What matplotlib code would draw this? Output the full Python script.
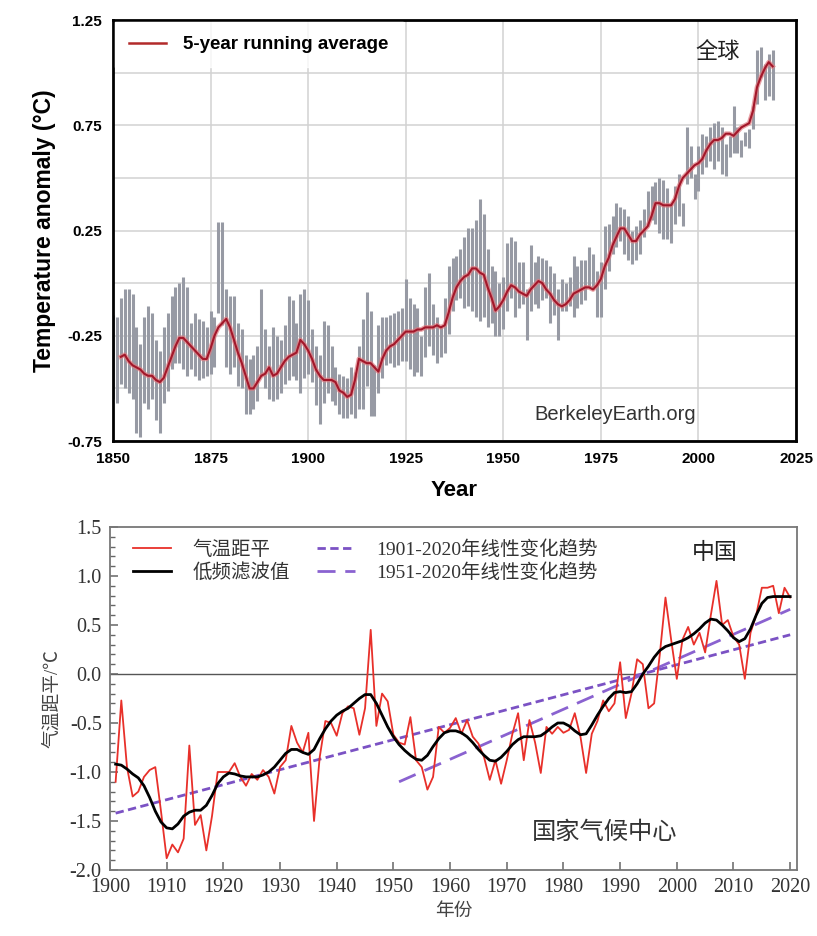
import numpy as np
import matplotlib
matplotlib.use("Agg")
import matplotlib.pyplot as plt
from matplotlib.lines import Line2D
from matplotlib.ticker import MultipleLocator, FixedLocator

plt.rcParams["axes.unicode_minus"] = False

# ---- global (Berkeley Earth) ----
# annual uncertainty bars, 1850-2019: upper and lower ends
glob_hi = [
    -0.15, -0.16, -0.07, -0.03, -0.03, -0.05, -0.21, -0.29, -0.16, -0.11,
    -0.14, -0.27, -0.32, -0.21, -0.14, -0.06, -0.02, 0.00, 0.03, -0.02,
    -0.19, -0.14, -0.17, -0.18, -0.21, -0.13, -0.16, 0.29, 0.29, -0.03,
    -0.06, -0.06, -0.19, -0.22, -0.34, -0.36, -0.34, -0.30, -0.03, -0.22,
    -0.30, -0.21, -0.25, -0.27, -0.20, -0.06, -0.08, -0.19, -0.05, -0.03,
    -0.08, -0.22, -0.30, -0.34, -0.18, -0.20, -0.30, -0.40, -0.43, -0.44,
    -0.45, -0.40, -0.42, -0.30, -0.17, -0.04, -0.13, -0.39, -0.20, -0.16,
    -0.16, -0.15, -0.14, -0.13, -0.12, 0.02, -0.07, -0.10, -0.12, -0.25,
    -0.02, 0.05, -0.10, -0.16, -0.21, -0.07, 0.08, 0.12, 0.13, 0.16,
    0.22, 0.26, 0.26, 0.30, 0.40, 0.33, 0.16, 0.08, 0.06, 0.00,
    0.03, 0.19, 0.22, 0.20, 0.10, 0.10, -0.03, 0.18, 0.10, 0.13,
    0.12, 0.11, 0.08, 0.05, -0.03, 0.02, 0.00, 0.03, 0.13, 0.08,
    0.11, 0.11, 0.17, 0.14, 0.06, 0.10, 0.27, 0.28, 0.32, 0.38,
    0.36, 0.35, 0.32, 0.25, 0.27, 0.30, 0.35, 0.44, 0.46, 0.48,
    0.50, 0.49, 0.45, 0.38, 0.46, 0.52, 0.38, 0.74, 0.65, 0.52,
    0.65, 0.71, 0.70, 0.74, 0.76, 0.77, 0.74, 0.66, 0.70, 0.84,
    0.74, 0.68, 0.72, 0.73, 0.84, 1.11, 1.12, 1.04, 1.09, 1.11,
]
glob_lo = [
    -0.55, -0.57, -0.48, -0.50, -0.52, -0.55, -0.71, -0.73, -0.57, -0.60,
    -0.55, -0.65, -0.71, -0.57, -0.51, -0.41, -0.38, -0.38, -0.41, -0.44,
    -0.41, -0.44, -0.46, -0.45, -0.44, -0.43, -0.40, -0.14, -0.20, -0.40,
    -0.43, -0.40, -0.49, -0.50, -0.62, -0.62, -0.60, -0.56, -0.44, -0.50,
    -0.55, -0.56, -0.55, -0.52, -0.48, -0.46, -0.44, -0.46, -0.52, -0.45,
    -0.43, -0.47, -0.58, -0.67, -0.57, -0.52, -0.56, -0.58, -0.62, -0.64,
    -0.64, -0.62, -0.64, -0.60, -0.60, -0.49, -0.63, -0.63, -0.52, -0.45,
    -0.39, -0.38, -0.40, -0.39, -0.37, -0.37, -0.41, -0.44, -0.42, -0.44,
    -0.35, -0.30, -0.34, -0.38, -0.35, -0.33, -0.24, -0.13, -0.08, -0.07,
    -0.12, -0.11, -0.13, -0.16, -0.18, -0.16, -0.21, -0.19, -0.25, -0.25,
    -0.22, -0.13, -0.07, -0.16, -0.12, -0.10, -0.27, -0.13, -0.10, -0.12,
    -0.08, -0.07, -0.19, -0.15, -0.27, -0.13, -0.13, -0.11, -0.16, -0.12,
    -0.10, -0.08, -0.02, -0.03, -0.16, -0.16, -0.03, 0.06, 0.14, 0.17,
    0.20, 0.14, 0.11, 0.09, 0.11, 0.14, 0.22, 0.27, 0.30, 0.28,
    0.24, 0.21, 0.21, 0.19, 0.28, 0.32, 0.27, 0.47, 0.50, 0.40,
    0.44, 0.52, 0.55, 0.58, 0.54, 0.58, 0.52, 0.51, 0.60, 0.62,
    0.62, 0.60, 0.65, 0.64, 0.73, 0.85, 0.98, 0.87, 0.89, 0.87,
]
glob_years = np.arange(1850, 1850 + len(glob_hi))

# 5-year running average, 1852-2019
run5 = [
    -0.35, -0.34, -0.37, -0.39, -0.40, -0.41, -0.43, -0.44,
    -0.44, -0.46, -0.47, -0.45, -0.40, -0.35, -0.30, -0.26, -0.26, -0.28,
    -0.30, -0.32, -0.34, -0.36, -0.36, -0.31, -0.25, -0.21, -0.19, -0.17,
    -0.21, -0.27, -0.33, -0.38, -0.44, -0.50, -0.50, -0.47, -0.44, -0.43,
    -0.40, -0.44, -0.43, -0.40, -0.37, -0.35, -0.34, -0.33, -0.27, -0.29,
    -0.32, -0.36, -0.41, -0.44, -0.46, -0.46, -0.46, -0.47, -0.51, -0.52,
    -0.54, -0.53, -0.46, -0.36, -0.37, -0.38, -0.38, -0.40, -0.42, -0.36,
    -0.32, -0.30, -0.29, -0.27, -0.25, -0.23, -0.23, -0.23, -0.22, -0.22,
    -0.21, -0.21, -0.21, -0.20, -0.21, -0.20, -0.14, -0.07, -0.02, 0.01,
    0.03, 0.04, 0.07, 0.07, 0.05, 0.04, -0.02, -0.07, -0.13, -0.11,
    -0.08, -0.04, -0.01, -0.02, -0.04, -0.05, -0.06, -0.03, -0.01, 0.01,
    0.00, -0.03, -0.05, -0.08, -0.10, -0.11, -0.10, -0.08, -0.05, -0.04,
    -0.03, -0.02, -0.02, -0.03, -0.01, 0.02, 0.08, 0.12, 0.18, 0.22,
    0.26, 0.26, 0.23, 0.20, 0.20, 0.23, 0.25, 0.27, 0.32, 0.38,
    0.38, 0.37, 0.37, 0.37, 0.40, 0.46, 0.50, 0.52, 0.54, 0.56,
    0.57, 0.59, 0.63, 0.66, 0.68, 0.68, 0.69, 0.71, 0.71, 0.70,
    0.72, 0.74, 0.75, 0.76, 0.82, 0.93, 0.98, 1.02, 1.05, 1.03,
]
run5_years = np.arange(1852, 1852 + len(run5))

# ---- China (National Climate Center) ----
cn_anom = [
    -1.10, -0.27, -0.95, -1.25, -1.20, -1.05, -0.98, -0.95, -1.40, -1.88,
    -1.74, -1.82, -1.68, -0.73, -1.54, -1.44, -1.80, -1.45, -1.00, -1.00,
    -1.00, -0.91, -1.05, -1.14, -1.02, -1.08, -0.98, -1.05, -1.22, -0.95,
    -0.88, -0.53, -0.70, -0.80, -0.60, -1.50, -0.85, -0.48, -0.50, -0.63,
    -0.40, -0.33, -0.35, -0.62, -0.35, 0.45, -0.53, -0.20, -0.28, -0.62,
    -0.70, -0.72, -0.44, -0.88, -0.95, -1.18, -1.05, -0.54, -0.60, -0.55,
    -0.45, -0.61, -0.47, -0.64, -0.71, -0.85, -1.08, -0.88, -1.12, -0.88,
    -0.61, -0.40, -0.88, -0.47, -0.70, -1.01, -0.54, -0.61, -0.54, -0.60,
    -0.57, -0.40, -0.64, -1.01, -0.61, -0.48, -0.27, -0.38, -0.30, 0.12,
    -0.45, -0.20, 0.15, 0.10, -0.35, -0.30, 0.20, 0.78, 0.35, -0.05,
    0.35, 0.48, 0.30, 0.42, 0.22, 0.60, 0.95, 0.50, 0.55, 0.38,
    0.30, -0.05, 0.42, 0.60, 0.88, 0.88, 0.90, 0.62, 0.88, 0.78,
]
cn_smooth = [
    -0.92, -0.93, -0.97, -1.02, -1.06, -1.14, -1.26, -1.40, -1.51, -1.57,
    -1.58, -1.53, -1.45, -1.41, -1.39, -1.39, -1.34, -1.24, -1.12, -1.05,
    -1.01, -1.02, -1.04, -1.05, -1.05, -1.05, -1.03, -1.00, -0.95, -0.88,
    -0.81, -0.77, -0.77, -0.80, -0.82, -0.77, -0.66, -0.56, -0.48, -0.42,
    -0.38, -0.35, -0.30, -0.25, -0.21, -0.21, -0.30, -0.42, -0.54, -0.64,
    -0.72, -0.78, -0.83, -0.87, -0.88, -0.83, -0.74, -0.66, -0.60, -0.58,
    -0.58, -0.60, -0.64, -0.70, -0.77, -0.83, -0.88, -0.89, -0.85, -0.79,
    -0.72, -0.67, -0.64, -0.64, -0.64, -0.63, -0.59, -0.54, -0.50, -0.50,
    -0.53, -0.58, -0.62, -0.61, -0.52, -0.42, -0.33, -0.25, -0.19, -0.18,
    -0.19, -0.18, -0.10, 0.00, 0.08, 0.17, 0.24, 0.28, 0.30, 0.32,
    0.34, 0.37, 0.41, 0.46, 0.52, 0.56, 0.55, 0.50, 0.44, 0.37,
    0.33, 0.36, 0.46, 0.60, 0.72, 0.78, 0.79, 0.79, 0.79, 0.79,
]
cn_years = np.arange(1901, 1901 + len(cn_anom))

# linear trends (end points)
trend_1901_years = [1901, 2020]
trend_1901_vals = [-1.42, 0.40]
trend_1951_years = [1951, 2020]
trend_1951_vals = [-1.10, 0.66]

fig = plt.figure(figsize=(8.17, 9.36), dpi=100)

# ================= top panel =================
ax1 = fig.add_axes([0.1383, 0.5288, 0.836, 0.4498])
ax1.set_xlim(1850, 2025)
ax1.set_ylim(-0.75, 1.25)
ax1.vlines(glob_years, glob_lo, glob_hi, color="#979aa4", lw=2.2, zorder=2)
ax1.plot(run5_years, run5, color="#e07a80", lw=3.4, alpha=0.7, zorder=3)
ax1.plot(run5_years, run5, color="#a3172a", lw=1.5, zorder=4)

ax1.xaxis.set_major_locator(MultipleLocator(25))
ax1.yaxis.set_major_locator(FixedLocator([-0.75, -0.25, 0.25, 0.75, 1.25]))
ax1.yaxis.set_minor_locator(FixedLocator([-0.5, 0.0, 0.5, 1.0]))
ax1.grid(True, which="both", color="#d2d2d2", lw=1.1, zorder=0)
ax1.set_axisbelow(True)
ax1.tick_params(which="both", length=0, pad=8, labelsize=11)
for lab in ax1.get_xticklabels() + ax1.get_yticklabels():
    lab.set_fontweight("bold")
    lab.set_family("Liberation Sans")
for sp in ax1.spines.values():
    sp.set_linewidth(2.0)
    sp.set_color("black")

ax1.set_xlabel("Year", fontsize=16, fontweight="bold", family="Liberation Sans", labelpad=10)
ax1.set_ylabel("Temperature anomaly (°C)", fontsize=16.5, fontweight="bold",
               family="Liberation Sans", labelpad=8)

leg1 = ax1.legend([Line2D([0], [0], color="#b22a2a", lw=1.8)], ["5-year running average"],
                  loc="upper left", bbox_to_anchor=(0.0, 1.0), borderaxespad=0.1,
                  borderpad=0.75, handlelength=2.0, handletextpad=0.9, frameon=True,
                  fancybox=False,
                  prop={"family": "Liberation Sans", "weight": "bold", "size": 13.5})
leg1.get_frame().set_facecolor("white")
leg1.get_frame().set_edgecolor("white")

ax1.text(0.885, 0.925, "全球", transform=ax1.transAxes, fontsize=16,
         family=["Noto Sans CJK SC", "DejaVu Sans"], ha="center", va="center", color="#222222")
ax1.text(0.735, 0.063, "BerkeleyEarth.org", transform=ax1.transAxes, fontsize=14.5,
         family="Liberation Sans", ha="center", va="center", color="#333333")

# ================= bottom panel =================
cjk = ["Liberation Serif", "Noto Sans CJK SC"]
ax2 = fig.add_axes([0.1346, 0.0705, 0.8409, 0.3665])
ax2.set_xlim(1900, 2021.2)
ax2.set_ylim(-2.0, 1.5)
ax2.axhline(0, color="#555555", lw=1.0, zorder=1)
ax2.plot(cn_years, cn_anom, color="#e8302a", lw=1.3, zorder=3, label="气温距平")
ax2.plot(cn_years, cn_smooth, color="black", lw=2.0, zorder=4, label="低频滤波值")
ax2.plot(trend_1901_years, trend_1901_vals, color="#7b52c4", lw=2.0, dashes=(3, 1.6),
         zorder=2, label="1901-2020年线性变化趋势")
ax2.plot(trend_1951_years, trend_1951_vals, color="#8a62d0", lw=2.0, dashes=(6.5, 3.5),
         zorder=2, label="1951-2020年线性变化趋势")

ax2.xaxis.set_major_locator(MultipleLocator(10))
ax2.yaxis.set_major_locator(MultipleLocator(0.5))
ax2.yaxis.set_minor_locator(MultipleLocator(0.1))
ax2.yaxis.set_major_formatter(plt.FuncFormatter(lambda v, p: f"{v:.1f}"))
ax2.tick_params(axis="both", which="major", direction="in", length=6, width=1.1,
                color="#666666", labelsize=14.5, pad=6)
ax2.tick_params(axis="y", which="minor", direction="in", length=3.5, width=1.0, color="#666666")
for lab in ax2.get_xticklabels() + ax2.get_yticklabels():
    lab.set_family("Liberation Serif")
    lab.set_color("#333333")
for sp in ax2.spines.values():
    sp.set_linewidth(1.3)
    sp.set_color("#777777")

ax2.set_xlabel("年份", fontsize=13.5, family=cjk, color="#444444", labelpad=4)
ax2.set_ylabel("气温距平/℃", fontsize=13.5, family=cjk, color="#444444", labelpad=6)

leg2 = ax2.legend(loc="upper left", ncol=2, frameon=False, bbox_to_anchor=(0.014, 1.0),
                  borderaxespad=0.3, handlelength=1.95, handletextpad=1.1,
                  columnspacing=1.4, labelspacing=0.2,
                  prop={"family": cjk, "size": 14})
for t in leg2.get_texts():
    t.set_color("#333333")

ax2.text(0.88, 0.925, "中国", transform=ax2.transAxes, fontsize=16.5,
         family=["Noto Sans CJK SC", "DejaVu Sans"], ha="center", va="center", color="#222222")
ax2.text(0.72, 0.11, "国家气候中心", transform=ax2.transAxes, fontsize=17.5,
         family=["Noto Sans CJK SC", "DejaVu Sans"], ha="center", va="center", color="#333333")

fig.savefig("out.png", dpi=100)
